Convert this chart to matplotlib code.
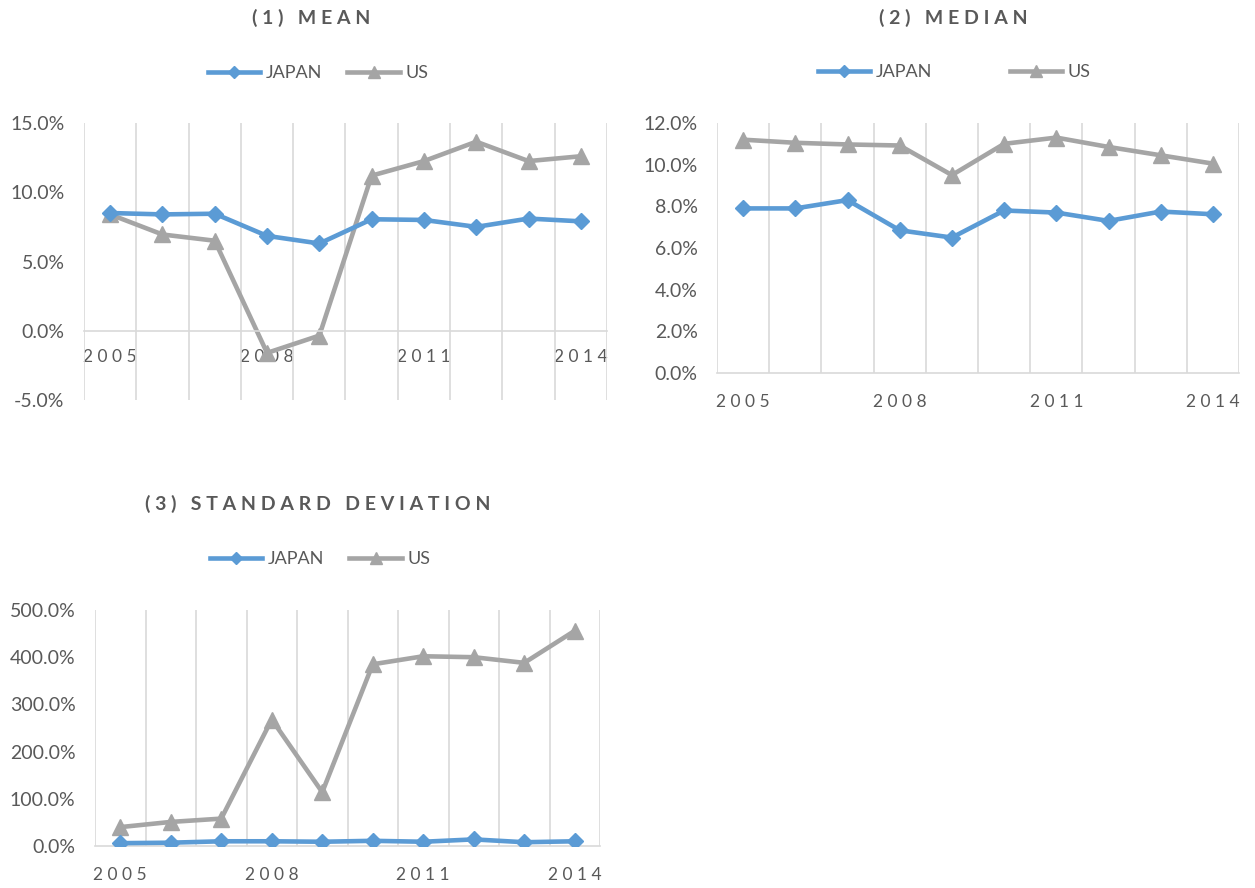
import matplotlib
matplotlib.use("Agg")
import matplotlib.pyplot as plt
from matplotlib.ticker import FixedLocator, FuncFormatter

plt.rcParams["font.family"] = ["Lato", "DejaVu Sans"]

YEARS = list(range(2005, 2015))
LABELED_YEARS = [2005, 2008, 2011, 2014]

# (1) mean, percent
MEAN_JAPAN = [8.5, 8.4, 8.45, 6.85, 6.3, 8.05, 8.0, 7.5, 8.1, 7.9]
MEAN_US = [8.4, 6.95, 6.5, -1.6, -0.35, 11.2, 12.25, 13.65, 12.25, 12.6]

# (2) median, percent
MEDIAN_JAPAN = [7.9, 7.9, 8.3, 6.85, 6.5, 7.8, 7.7, 7.3, 7.75, 7.62]
MEDIAN_US = [11.2, 11.05, 10.97, 10.92, 9.5, 11.0, 11.3, 10.85, 10.45, 10.05]

# (3) standard deviation, percent
SD_JAPAN = [6, 7, 10, 10, 9, 11, 9, 14, 8, 10]
SD_US = [40, 51, 58, 268, 114, 385, 402, 400, 388, 456]

BLUE = "#5B9BD5"
GRAY = "#A5A5A5"
GRID = "#D9D9D9"
TEXT = "#595959"
W, H = 1255, 888


def spaced(s):
    # Excel draws these labels with wide tracking
    return " ".join(s)


def draw_panel(rect, japan, us, ylim, ystep, title, title_xy, legend_xy, colspacing, zero_axis=False):
    ax = fig.add_axes(rect)
    x = list(range(len(YEARS)))
    ax.plot(x, japan, color=BLUE, lw=3.3, marker="D", ms=8.5, label="JAPAN",
            solid_joinstyle="round", zorder=3)
    ax.plot(x, us, color=GRAY, lw=3.3, marker="^", ms=11, label="US",
            solid_joinstyle="round", zorder=2)
    ax.set_xlim(-0.5, len(YEARS) - 0.5)
    ax.set_ylim(*ylim)

    ax.xaxis.set_minor_locator(FixedLocator([i - 0.5 for i in range(len(YEARS) + 1)]))
    ax.grid(which="minor", axis="x", color=GRID, lw=1.2)
    ax.set_xticks([YEARS.index(y) for y in LABELED_YEARS])
    ax.set_xticklabels([spaced(str(y)) for y in LABELED_YEARS])
    ax.tick_params(axis="x", which="both", length=0, pad=13 if zero_axis else 15,
                   labelsize=12.5, labelcolor=TEXT)

    ticks = []
    v = ylim[0]
    while v <= ylim[1] + 1e-9:
        ticks.append(v)
        v += ystep
    ax.set_yticks(ticks)
    ax.yaxis.set_major_formatter(FuncFormatter(lambda v, p: f"{v:.1f}%"))
    ax.tick_params(axis="y", length=0, pad=14, labelsize=14, labelcolor=TEXT)

    for side in ("top", "right", "left"):
        ax.spines[side].set_visible(False)
    ax.spines["bottom"].set_color(GRID)
    ax.spines["bottom"].set_linewidth(1.2)
    if zero_axis:
        ax.spines["bottom"].set_position(("data", 0))

    fig.text(title_xy[0] / W, 1 - title_xy[1] / H, spaced(title), ha="center", va="center",
             fontsize=14, fontweight="bold", color=TEXT)
    ax.legend(loc="center", bbox_to_anchor=(legend_xy[0] / W, 1 - legend_xy[1] / H),
              bbox_transform=fig.transFigure, ncol=2, frameon=False, fontsize=13,
              handlelength=2.9, handletextpad=0.3, columnspacing=colspacing,
              labelcolor=TEXT, markerscale=0.75)
    return ax


fig = plt.figure(figsize=(W / 100, H / 100), dpi=100)

draw_panel([84 / W, 1 - 400 / H, 523 / W, 277 / H], MEAN_JAPAN, MEAN_US, (-5, 15), 5,
           "(1) MEAN", (311, 18), (318, 73), 1.4, zero_axis=True)
draw_panel([717 / W, 1 - 373 / H, 522 / W, 250 / H], MEDIAN_JAPAN, MEDIAN_US, (0, 12), 2,
           "(2) MEDIAN", (953, 18), (954, 72), 4.3)
draw_panel([95 / W, 1 - 846 / H, 505 / W, 236 / H], SD_JAPAN, SD_US, (0, 500), 100,
           "(3) STANDARD DEVIATION", (318, 504), (320, 559), 1.4)

fig.savefig("out.png", dpi=100)
